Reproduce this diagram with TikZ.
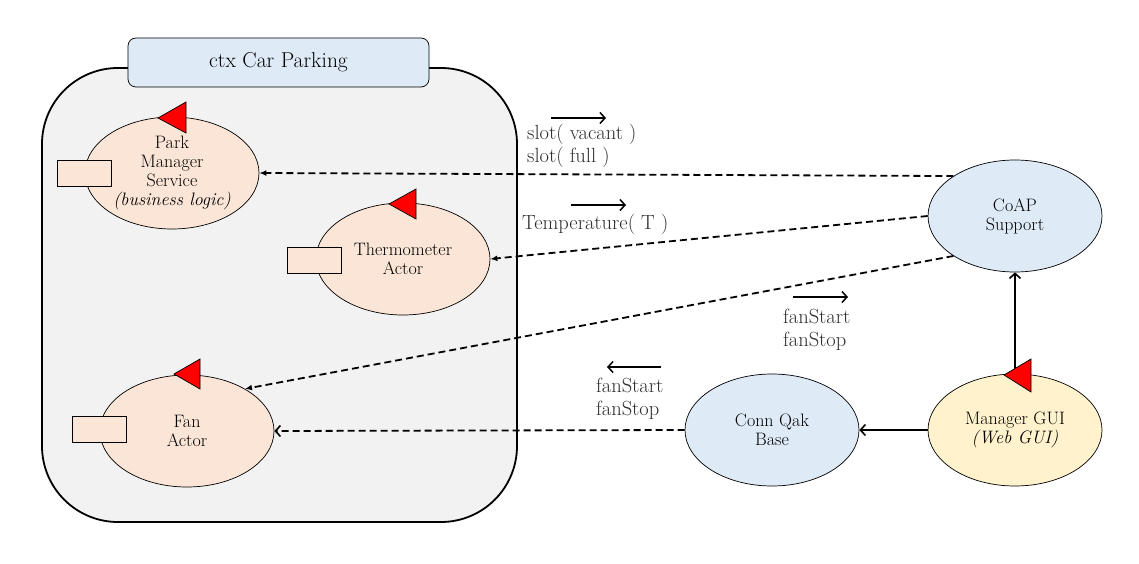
\documentclass[tikz,border=0pt]{standalone}
\usetikzlibrary{arrows.meta,shapes.geometric,calc}
\definecolor{peach}{RGB}{251,229,214}
\definecolor{lblue}{RGB}{222,234,246}
\definecolor{lyellow}{RGB}{255,242,204}
\definecolor{ctxgray}{RGB}{242,242,242}
\definecolor{lbl}{RGB}{45,45,45}
\begin{document}
\begin{tikzpicture}[x=1pt,y=-1pt,
  actor/.style={ellipse, draw, line width=0.7pt, minimum width=174pt, minimum height=112pt, inner sep=0pt, align=center, font=\fontsize{18}{19}\selectfont},
  port/.style={draw, fill=peach, line width=0.7pt, minimum width=54pt, minimum height=26pt, inner sep=0pt},
  tri/.style={draw, fill=red, line width=0.7pt},
  dashlink/.style={line width=1.8pt, dash pattern=on 7pt off 4pt},
  filledtip/.style={-{Latex[length=7pt,width=6pt]}},
  opentip/.style={-{Straight Barb[length=5pt,width=11pt,line width=1.6pt]}},
  solidlink/.style={line width=1.8pt},
  msg/.style={text=lbl, align=left, anchor=west, inner sep=0pt, font=\fontsize{20.5}{23}\selectfont},
  msgarrow/.style={line width=1.6pt, -{Straight Barb[length=5pt,width=11pt,line width=1.5pt]}}
]
\useasboundingbox (0,0) rectangle (1139,564);

% context box
\node[draw, fill=ctxgray, line width=1.8pt, rounded corners=76pt, minimum width=475pt, minimum height=454pt] (ctx) at (279.5,295) {};
\node[draw, fill=lblue, line width=0.7pt, rounded corners=8pt, minimum width=301pt, minimum height=49pt, font=\fontsize{21.5}{24}\selectfont] (title) at (278.5,62.5) {ctx Car Parking};

% actors
\node[actor, fill=peach] (pm) at (172,173) {Park\\Manager\\Service\\\textit{(business logic)}};
\node[port] (pmport) at (84,173) {};
\draw[tri] (158,118) -- (186,102) -- (186,133) -- cycle;

\node[actor, fill=peach] (th) at (403,259) {Thermometer\\Actor};
\node[port] (thport) at (314,260) {};
\draw[tri] (389,204) -- (416,189) -- (416,219) -- cycle;

\node[actor, fill=peach] (fan) at (187,431) {Fan\\Actor};
\node[port] (fanport) at (99,429.5) {};
\draw[tri] (174,374) -- (200,359) -- (200,389) -- cycle;

\node[actor, fill=lblue] (coap) at (1015,216) {CoAP\\Support};
\node[actor, fill=lblue] (conn) at (772,430) {Conn Qak\\Base};
\node[actor, fill=lyellow] (gui) at (1015,430) {Manager GUI\\\textit{(Web GUI)}};

% connectors
\draw[dashlink, filledtip] (coap.147) -- (pm.east);
\draw[dashlink, filledtip] (coap.west) -- (th.east);
\draw[dashlink, filledtip] (coap.213) -- (fan.36);
\draw[dashlink, opentip] (conn.west) -- (fan.east);
\draw[solidlink, opentip] (gui.west) -- (conn.east);
\draw[solidlink, opentip] (gui.north) -- (coap.south);
\draw[tri] (1004,375) -- (1031,359) -- (1031,392) -- cycle;

% message labels
\coordinate (m1a) at (551,118); \coordinate (m1b) at (606,118);
\draw[msgarrow] (m1a) -- (m1b);
\node[msg] (m1) at (527,146) {slot( vacant )\\slot( full )};

\coordinate (m2a) at (571,205); \coordinate (m2b) at (626,205);
\draw[msgarrow] (m2a) -- (m2b);
\node[msg] (m2) at (522,224) {Temperature( T )};

\coordinate (m3a) at (793,297); \coordinate (m3b) at (848,297);
\draw[msgarrow] (m3a) -- (m3b);
\node[msg] (m3) at (783,330) {fanStart\\fanStop};

\coordinate (m4a) at (661,367); \coordinate (m4b) at (607,367);
\draw[msgarrow] (m4a) -- (m4b);
\node[msg] (m4) at (596,399) {fanStart\\fanStop};
\end{tikzpicture}
\end{document}
